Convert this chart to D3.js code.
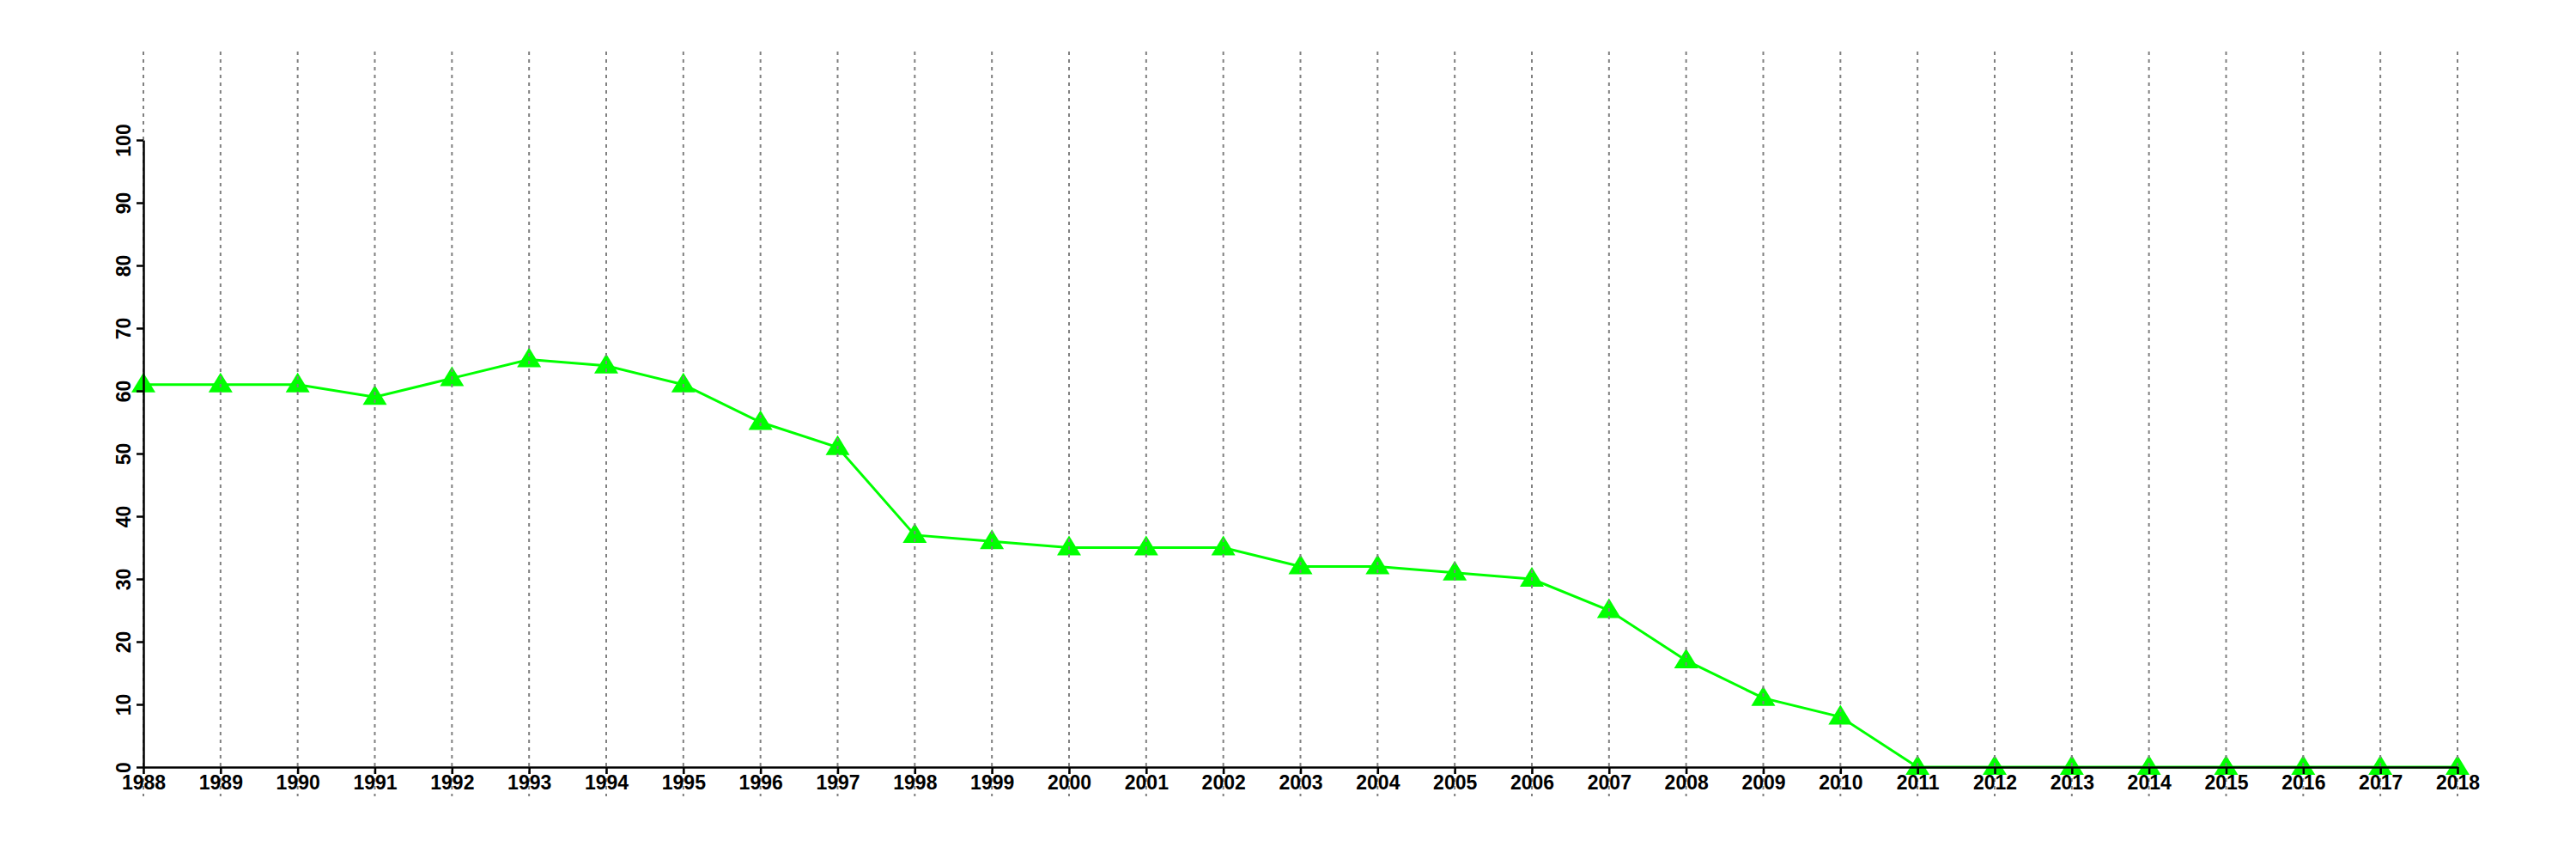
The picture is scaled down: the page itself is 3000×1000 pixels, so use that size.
<!DOCTYPE html>
<html>
<head>
<meta charset="utf-8">
<script src="https://cdn.jsdelivr.net/npm/d3@7"></script>
<style>
  html, body { margin: 0; padding: 0; background: #fff; }
  svg text { font-family: "Liberation Sans", Arial, Helvetica, sans-serif; font-weight: bold; }
</style>
</head>
<body>
<svg id="chart" width="3000" height="1000"></svg>
<script>
const years = [1988,1989,1990,1991,1992,1993,1994,1995,1996,1997,1998,1999,2000,2001,2002,2003,2004,2005,2006,2007,2008,2009,2010,2011,2012,2013,2014,2015,2016,2017,2018];
const values = [61,61,61,59,62,65,64,61,55,51,37,36,35,35,35,32,32,31,30,25,17,11,8,0,0,0,0,0,0,0,0];
const yTicks = [0,10,20,30,40,50,60,70,80,90,100];

const svg = d3.select("#chart");
const x = d3.scaleLinear().domain([1988, 2018]).range([167, 2862]);
const y = d3.scaleLinear().domain([0, 100]).range([893, 163]);
const data = years.map((yr, i) => ({ yr, v: values[i] }));

// line
svg.append("path")
  .datum(data)
  .attr("fill", "none")
  .attr("stroke", "#00ff00")
  .attr("stroke-width", 3)
  .attr("d", d3.line().x(d => x(d.yr)).y(d => y(d.v)));

// markers
svg.selectAll("path.marker")
  .data(data)
  .enter().append("path")
  .attr("class", "marker")
  .attr("fill", "#00ff00")
  .attr("d", d => `M${x(d.yr)},${y(d.v) - 14}L${x(d.yr) + 14},${y(d.v) + 9}L${x(d.yr) - 14},${y(d.v) + 9}Z`);

// vertical dotted gridlines
svg.selectAll("line.grid")
  .data(years)
  .enter().append("line")
  .attr("class", "grid")
  .attr("x1", d => x(d)).attr("x2", d => x(d))
  .attr("y1", 60).attr("y2", 927)
  .attr("stroke", "#808080")
  .attr("stroke-width", 2)
  .attr("stroke-dasharray", "4,5");

// x axis
const xAxis = d3.axisBottom(x)
  .tickValues(years)
  .tickFormat(d3.format("d"))
  .tickSize(8)
  .tickSizeOuter(0);
const gx = svg.append("g").attr("transform", `translate(0,${y(0)})`).call(xAxis);
gx.select(".domain").attr("stroke", "#000").attr("stroke-width", 2.5);
gx.selectAll(".tick line").attr("stroke", "#000").attr("stroke-width", 2.5);
gx.selectAll(".tick text")
  .attr("fill", "#000")
  .attr("font-size", 23)
  .attr("font-family", "Liberation Sans, Arial, sans-serif")
  .attr("font-weight", "bold")
  .attr("y", 10)
  .attr("dy", "0.71em");

// y axis
const yAxis = d3.axisLeft(y)
  .tickValues(yTicks)
  .tickSize(8)
  .tickSizeOuter(0);
const gy = svg.append("g").attr("transform", `translate(${x(1988)},0)`).call(yAxis);
gy.select(".domain").attr("stroke", "#000").attr("stroke-width", 2.5);
gy.selectAll(".tick line").attr("stroke", "#000").attr("stroke-width", 2.5);
gy.selectAll(".tick text")
  .attr("fill", "#000")
  .attr("font-size", 23)
  .attr("font-family", "Liberation Sans, Arial, sans-serif")
  .attr("font-weight", "bold")
  .attr("x", null).attr("dy", null)
  .attr("text-anchor", "middle")
  .attr("transform", "translate(-15,0) rotate(-90)");
</script>
</body>
</html>
